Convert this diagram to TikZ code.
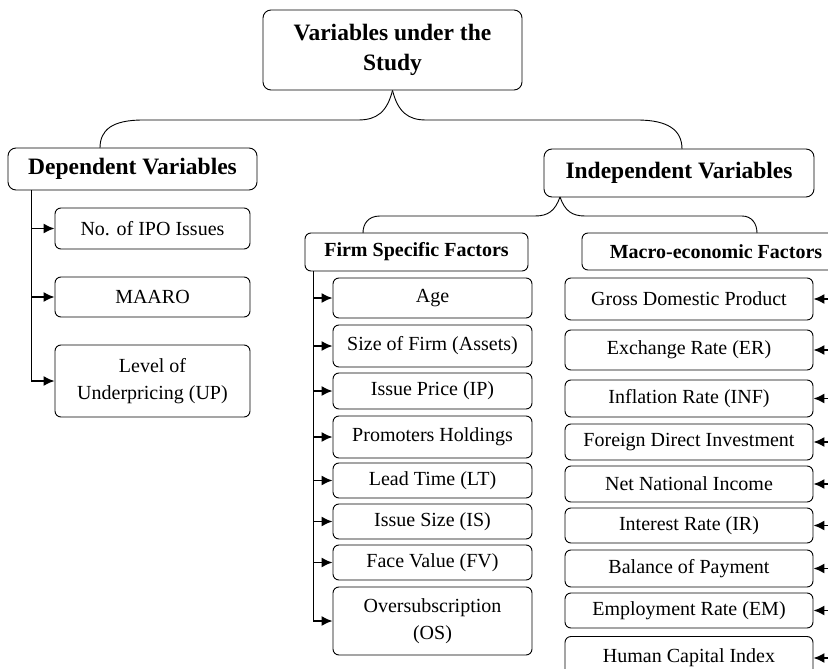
\documentclass[tikz,border=0pt]{standalone}
\usepackage{fontspec}
\setmainfont{Liberation Serif}
\usetikzlibrary{arrows.meta}
\usetikzlibrary{positioning}

\tikzset{
varbox/.style={draw, rounded corners=6pt, line width=0.9pt, align=center, inner sep=2pt, font=\fontsize{20}{27}\selectfont},
headbox/.style={varbox, rounded corners=8pt, font=\bfseries\fontsize{23.5}{30}\selectfont},
groupbox/.style={varbox, font=\bfseries\fontsize{20}{24}\selectfont},
depbox/.style={varbox, minimum width=195pt},
firmbox/.style={varbox, minimum width=199pt},
macrobox/.style={varbox, minimum width=248pt},
feed/.style={line width=1.6pt, -{Latex[length=11pt,width=10pt]}},
brace/.style={line width=0.9pt},
}

\begin{document}
\begin{tikzpicture}[%
x={(1pt,0pt)},
y={(0pt,-1pt)},
]
\clip (0,0) rectangle (828,669);

%Kopf
\node[headbox, minimum width=259pt, minimum height=80pt] (study) at (392.5,50) {Variables under the\\Study};
\node[headbox, minimum width=249pt, minimum height=42pt] (dep) at (132.5,169) {Dependent Variables};
\node[headbox, minimum width=270pt, minimum height=48pt] (indep) at (679,173) {Independent Variables};
\node[groupbox, minimum width=223pt, minimum height=38pt] (firm) at (416.5,252) {Firm Specific Factors};
\node[groupbox, minimum width=268pt, minimum height=37pt] (macro) at (716,251.5) {Macro-economic Factors};

%abhaengig
\node[depbox, minimum height=41pt] (ipo) at (152.5,228.5) {No. of IPO Issues};
\node[depbox, minimum height=40pt] (maaro) at (152.5,297) {MAARO};
\node[depbox, minimum height=72pt] (lup) at (152.5,381) {Level of\\Underpricing (UP)};

%firmenspezifisch
\node[firmbox, minimum height=40pt] (age) at (432.5,298) {Age};
\node[firmbox, minimum height=42pt] (size) at (432.5,346) {Size of Firm (Assets)};
\node[firmbox, minimum height=36pt] (price) at (432.5,391) {Issue Price (IP)};
\node[firmbox, minimum height=42pt] (prom) at (432.5,437) {Promoters Holdings};
\node[firmbox, minimum height=35pt] (lead) at (432.5,480.5) {Lead Time (LT)};
\node[firmbox, minimum height=35pt] (isize) at (432.5,521.5) {Issue Size (IS)};
\node[firmbox, minimum height=35pt] (face) at (432.5,562.5) {Face Value (FV)};
\node[firmbox, minimum height=68pt] (over) at (432.5,621) {Oversubscription\\(OS)};

%makro
\node[macrobox, minimum height=42pt] (gdp) at (689,299) {Gross Domestic Product};
\node[macrobox, minimum height=40pt] (er) at (689,350) {Exchange Rate (ER)};
\node[macrobox, minimum height=37pt] (inf) at (689,398.5) {Inflation Rate (INF)};
\node[macrobox, minimum height=36pt] (fdi) at (689,442) {Foreign Direct Investment};
\node[macrobox, minimum height=36pt] (nni) at (689,484) {Net National Income};
\node[macrobox, minimum height=35pt] (ir) at (689,525.5) {Interest Rate (IR)};
\node[macrobox, minimum height=37pt] (bop) at (689,568.5) {Balance of Payment};
\node[macrobox, minimum height=35pt] (em) at (689,610.5) {Employment Rate (EM)};
\node[macrobox, minimum height=43pt] (hci) at (689,658) {Human Capital Index};

%Klammern
\draw[brace] (study.south) .. controls (387,112) and (377,120) .. (358,120) -- (143,120) .. controls (112,120) and (100,130) .. (100,148);
\draw[brace] (study.south) .. controls (398,112) and (408,120) .. (426,120) -- (637,120) .. controls (668,120) and (682,130) .. (682,149);
\coordinate (cusp) at (560,197);
\draw[brace] (cusp) .. controls (555,211) and (548,216) .. (535,216) -- (380,216) .. controls (368,216) and (363,224) .. (363,233);
\draw[brace] (cusp) .. controls (565,211) and (572,216) .. (585,216) -- (742,216) .. controls (752,216) and (757,224) .. (757,233);

%Pfeile
\coordinate (deptrunk) at (31,190);
\coordinate (firmtrunk) at (313,271);
\coordinate (macrotrunk) at (834,270);
\draw[brace] (deptrunk) -- (deptrunk |- lup.west);
\draw[brace] (firmtrunk) -- (firmtrunk |- over.west);
\foreach \n in {ipo,maaro,lup}
  \draw[feed] (deptrunk |- \n.west) -- (\n.west);
\foreach \n in {age,size,price,prom,lead,isize,face,over}
  \draw[feed] (firmtrunk |- \n.west) -- (\n.west);
\foreach \n in {gdp,er,inf,fdi,nni,ir,bop,em,hci}
  \draw[feed] (macrotrunk |- \n.east) -- (\n.east);

\end{tikzpicture}
\end{document}
